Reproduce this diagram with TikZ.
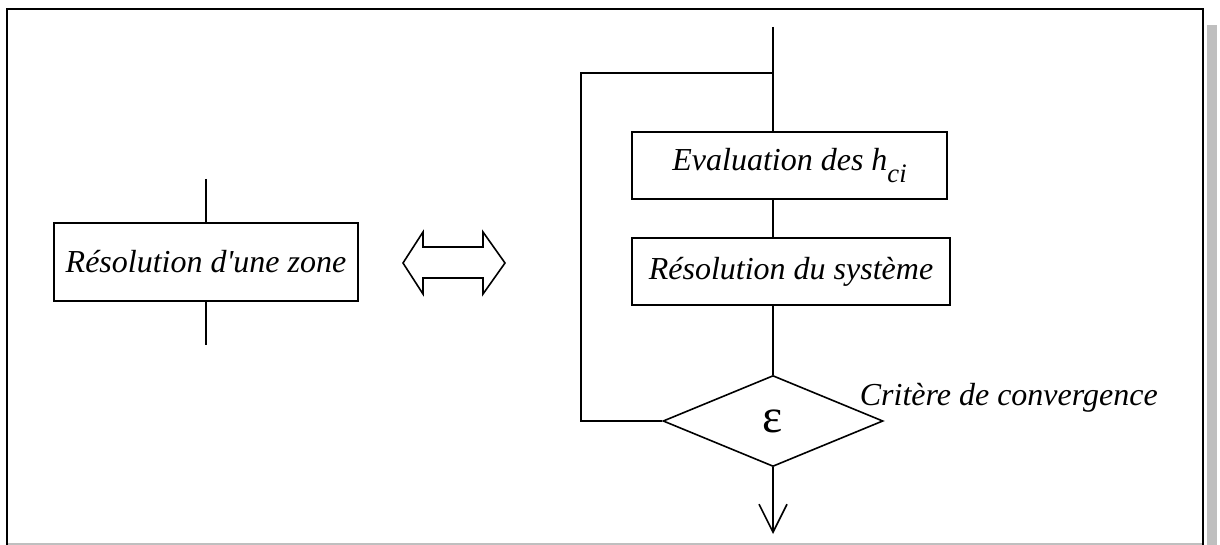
\documentclass[tikz,border=0pt]{standalone}
\usepackage{fontspec}
\setmainfont{Liberation Serif}
\usetikzlibrary{arrows.meta,shapes.geometric}
\begin{document}
\begin{tikzpicture}[x=0.75pt,y=-0.75pt,
  line width=1.2pt,
  procbox/.style={draw, line width=1.2pt, rectangle, inner sep=0pt,
    font=\fontsize{24}{29}\selectfont\itshape},
  decision/.style={draw, line width=1.2pt, diamond, inner sep=0pt,
    minimum width=165pt, minimum height=68.25pt},
  lbl/.style={font=\fontsize{24}{29}\selectfont\itshape, inner sep=0pt},
  frame/.style={line width=2pt},
  shadow/.style={fill=black!25}]
\useasboundingbox (0,0) rectangle (1220,545);
% page frame with shadow
\fill[shadow] (1207,25) rectangle (1217,545);
\draw[black!25, line width=1.5pt] (7,543.5) -- (1203,543.5);
\draw[frame] (7,545) -- (7,9) -- (1203,9) -- (1203,545);
% left: single zone
\node[procbox, minimum width=228pt, minimum height=58.5pt] (lz) at (206,262) {Résolution d\textquotesingle une zone};
\coordinate (lzin) at (206,179);
\coordinate (lzout) at (206,345);
\draw (lzin) -- (lz.north);
\draw (lz.south) -- (lzout);
% double arrow (equivalence)
\draw[line width=1.2pt, line join=miter] (403,263) -- (423,232) -- (423,247) -- (483,247) -- (483,232) -- (505,263)
  -- (483,294) -- (483,278) -- (423,278) -- (423,294) -- cycle;
% right: iterative scheme
\node[procbox, minimum width=236.25pt, minimum height=50.25pt] (eval) at (789.5,165.5)
  {Evaluation des h\raisebox{-0.35em}{\fontsize{20}{23}\selectfont ci}};
\node[procbox, minimum width=238.5pt, minimum height=50.25pt] (solve) at (791,271.5) {Résolution du système};
\node[decision] (crit) at (773,421) {\fontsize{36}{40}\selectfont ε};
\node[lbl, anchor=base west] (critlbl) at (859,405) {Critère de convergence};
\coordinate (in) at (773,27);
\coordinate (join) at (773,73);
\coordinate (loopTL) at (581,73);
\coordinate (loopBL) at (581,421);
\coordinate (out) at (773,534);
\draw (in) -- (join) -- (join |- eval.north);
\draw (eval.south -| join) -- (solve.north -| join);
\draw (solve.south -| join) -- (crit.north);
\draw (crit.west) -- (loopBL) -- (loopTL) -- (join);
\draw[-{Straight Barb[length=21pt,width=21pt]}] (crit.south) -- (out);
\end{tikzpicture}
\end{document}
